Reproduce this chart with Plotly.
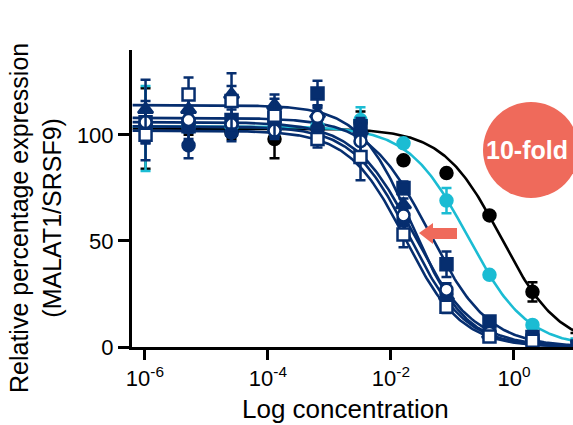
import numpy as np
import plotly.graph_objects as go

# ---- data ----
conc = [1.024e-6, 5.12e-6, 2.56e-5, 1.28e-4, 6.4e-4, 3.2e-3, 0.016, 0.08, 0.4, 2, 10]

black_y = [103, 104, 101, 98, 103, 106, 88, 82, 62, 26, 6.6]
black_err = [19, 4, 3, 9, 3, 5, 0, 0, 0, 4.5, 0]
cyan_y = [103, 104, 104, 103, 104, 107, 96, 69, 34, 10.4, 4]
cyan_err = [20, 3, 3, 3, 3, 6, 0, 6, 0, 0, 0]
fcirc_y = [104, 95, 101, 103, 103, 100, 60, 25, 7, 3, 2]
fcirc_err = [8, 6, 4, 4, 3, 4, 3, 3, 1, 1, 1]
fsq_y = [106, 104, 107, 108, 119.5, 104, 75, 39, 12, 4.7, 2]
fsq_err = [10, 6, 5, 5, 6, 4, 3, 6, 2, 1, 1]
tri_y = [112, 112, 119, 114, 110, 102, 67, 24, 6, 3, 1.5]
tri_err = [14, 5, 4, 3, 4, 4, 3, 2, 1, 1, 1]
ocirc_y = [106, 107, 105, 102, 108.5, 97, 62, 27, 6.6, 3, 1]
ocirc_err = [6, 5, 4, 4, 4, 5, 3, 3, 1, 1, 1]
osq_y = [100, 119, 116, 109, 98, 89.6, 53, 19, 5, 3, 1]
osq_err = [12, 8, 13, 10, 4, 11, 6, 3, 1, 1, 1]

# fitted 4PL parameters: top, log10 IC50, hill
fit_black = [103, -0.21, 0.92]
fit_cyan = [104, -0.75, 0.9]
fit_fcirc = [104, -1.70, 0.95]
fit_fsq = [108, -1.38, 0.9]
fit_tri = [114, -1.65, 1.0]
fit_ocirc = [106, -1.63, 0.9]
fit_osq = [102, -1.77, 0.95]

x_tick_vals = [1e-6, 1e-4, 1e-2, 1]
x_tick_text = ["10<sup>-6</sup>", "10<sup>-4</sup>", "10<sup>-2</sup>", "10<sup>0</sup>"]
y_tick_vals = [0, 50, 100]

NAVY = "#062e6f"
CYAN = "#1bbcd3"
SALMON = "#ef6a5b"
FONT = "Arial, Liberation Sans, sans-serif"

series = [
    (black_y, black_err, fit_black, "black", "circle", "black"),
    (cyan_y, cyan_err, fit_cyan, CYAN, "circle", CYAN),
    (fcirc_y, fcirc_err, fit_fcirc, NAVY, "circle", NAVY),
    (fsq_y, fsq_err, fit_fsq, NAVY, "square", NAVY),
    (tri_y, tri_err, fit_tri, NAVY, "triangle-up", NAVY),
    (ocirc_y, ocirc_err, fit_ocirc, NAVY, "circle", "white"),
    (osq_y, osq_err, fit_osq, NAVY, "square", "white"),
]

fig = go.Figure()
lx = np.linspace(-6.2, 1.05, 300)
for y, e, (top, lic, h), col, sym, fill in series:
    fy = top / (1 + 10 ** ((lx - lic) * h))
    fig.add_trace(go.Scatter(x=10 ** lx, y=fy, mode="lines",
                             line=dict(color=col, width=2.6),
                             showlegend=False, hoverinfo="skip", cliponaxis=False))
for y, e, (top, lic, h), col, sym, fill in series:
    fig.add_trace(go.Scatter(
        x=conc, y=y, mode="markers",
        marker=dict(symbol=sym, size=12 if sym != "triangle-up" else 13,
                    color=fill, line=dict(color=col, width=2.5)),
        error_y=dict(type="data", array=e, color=col, thickness=2.5, width=5),
        showlegend=False, cliponaxis=False))

L, R, T, B = 132, 573, 50, 347
W, H = R - L, B - T


def px(x):
    return (x - L) / W


def py(y):
    return (B - y) / H


# circle badge
fig.add_shape(type="circle", xref="paper", yref="paper",
              x0=px(483), x1=px(579), y0=py(198), y1=py(102),
              fillcolor=SALMON, line=dict(width=0), layer="above")
fig.add_annotation(xref="paper", yref="paper", x=px(527), y=py(150),
                   xanchor="center", yanchor="middle",
                   text="<b>10-fold</b>", showarrow=False,
                   font=dict(family=FONT, size=25, color="white"))
# arrow
path = (f"M {px(419)},{py(233)} L {px(433)},{py(223)} L {px(433)},{py(228)} "
        f"L {px(457)},{py(228)} L {px(457)},{py(239)} L {px(433)},{py(239)} "
        f"L {px(433)},{py(244)} Z")
fig.add_shape(type="path", xref="paper", yref="paper", path=path,
              fillcolor=SALMON, line=dict(width=0), layer="above")

# axis titles
fig.add_annotation(xref="paper", yref="paper", x=px(35), y=py(218),
                   xanchor="center", yanchor="middle", textangle=-90,
                   text="Relative percentage expression<br>(MALAT1/SRSF9)",
                   showarrow=False, font=dict(family=FONT, size=25, color="black"))
fig.add_annotation(xref="paper", yref="paper", x=px(345), y=py(409),
                   xanchor="center", yanchor="middle",
                   text="Log concentration",
                   showarrow=False, font=dict(family=FONT, size=26, color="black"))

fig.update_layout(
    width=573, height=425,
    margin=dict(l=L, r=0, t=T, b=425 - B, pad=0, autoexpand=False),
    plot_bgcolor="white", paper_bgcolor="white",
    font=dict(family=FONT, color="black"),
)
fig.update_xaxes(
    type="log", range=[-6.21, 0.96], automargin=False,
    tickvals=x_tick_vals, ticktext=x_tick_text,
    ticks="outside", ticklen=10, tickwidth=2.5, tickcolor="black",
    showline=True, linewidth=3, linecolor="black", showgrid=False, zeroline=False,
    tickfont=dict(size=22),
)
fig.update_yaxes(
    range=[0, 140], tickvals=y_tick_vals, automargin=False,
    ticks="outside", ticklen=11, tickwidth=2.5, tickcolor="black",
    showline=True, linewidth=3, linecolor="black", showgrid=False, zeroline=False,
    tickfont=dict(size=22),
)
fig.write_html("out.html", config={"displayModeBar": False},
               post_script="document.body.style.margin='0';document.body.style.overflow='hidden';")
